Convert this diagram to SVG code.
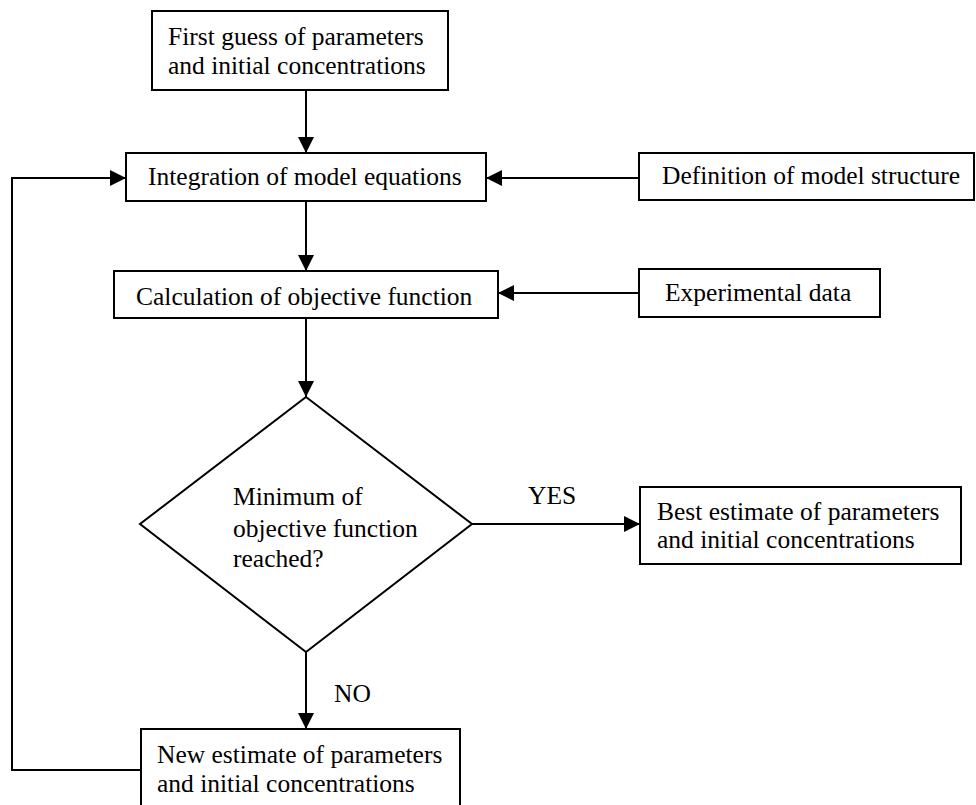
<svg xmlns="http://www.w3.org/2000/svg" width="976" height="805" viewBox="0 0 976 805">
<style>
.box{fill:#fff;stroke:#000;stroke-width:2}
.t{font-family:"Liberation Serif","Times New Roman",serif;font-size:25.5px;fill:#000}
.c{fill:none;stroke:#000;stroke-width:2}
</style>
<defs>
<marker id="ah" markerUnits="userSpaceOnUse" markerWidth="17" markerHeight="16" refX="16" refY="8" orient="auto">
<path d="M0,0 L16,8 L0,16 z" fill="#000"/>
</marker>
</defs>
<rect width="976" height="805" fill="#fff"/>
<g id="connectors">
<line class="c" x1="306" y1="90" x2="306" y2="153" marker-end="url(#ah)"/>
<line class="c" x1="306" y1="201" x2="306" y2="271" marker-end="url(#ah)"/>
<line class="c" x1="306" y1="318" x2="306" y2="397" marker-end="url(#ah)"/>
<line class="c" x1="306" y1="652" x2="306" y2="729" marker-end="url(#ah)"/>
<line class="c" x1="472" y1="524" x2="640" y2="524" marker-end="url(#ah)"/>
<line class="c" x1="639" y1="178" x2="486" y2="178" marker-end="url(#ah)"/>
<line class="c" x1="639" y1="293" x2="498" y2="293" marker-end="url(#ah)"/>
<path class="c" d="M141,770 H12 V178 H126" marker-end="url(#ah)"/>
<text class="t" x="528" y="504">YES</text>
<text class="t" x="334" y="702">NO</text>
</g>
<g id="first-guess">
<rect class="box" x="152" y="11" width="296" height="79"/>
<text class="t" x="168" y="45">First guess of parameters</text>
<text class="t" x="168" y="74">and initial concentrations</text>
</g>
<g id="integration">
<rect class="box" x="126" y="153" width="360" height="48"/>
<text class="t" x="148" y="185">Integration of model equations</text>
</g>
<g id="definition">
<rect class="box" x="639" y="153" width="335" height="47"/>
<text class="t" x="662" y="184">Definition of model structure</text>
</g>
<g id="calculation">
<rect class="box" x="114" y="271" width="384" height="47"/>
<text class="t" x="136" y="305">Calculation of objective function</text>
</g>
<g id="experimental">
<rect class="box" x="639" y="269" width="241" height="48"/>
<text class="t" x="665" y="301">Experimental data</text>
</g>
<g id="decision">
<polygon class="box" points="306,397 472,524 306,652 140,524"/>
<text class="t" x="233" y="505">Minimum of</text>
<text class="t" x="233" y="537">objective function</text>
<text class="t" x="233" y="567">reached?</text>
</g>
<g id="best-estimate">
<rect class="box" x="640" y="487" width="321" height="77"/>
<text class="t" x="657" y="520">Best estimate of parameters</text>
<text class="t" x="657" y="548">and initial concentrations</text>
</g>
<g id="new-estimate">
<rect class="box" x="141" y="729" width="319" height="90"/>
<text class="t" x="157" y="763">New estimate of parameters</text>
<text class="t" x="157" y="792">and initial concentrations</text>
</g>
</svg>
